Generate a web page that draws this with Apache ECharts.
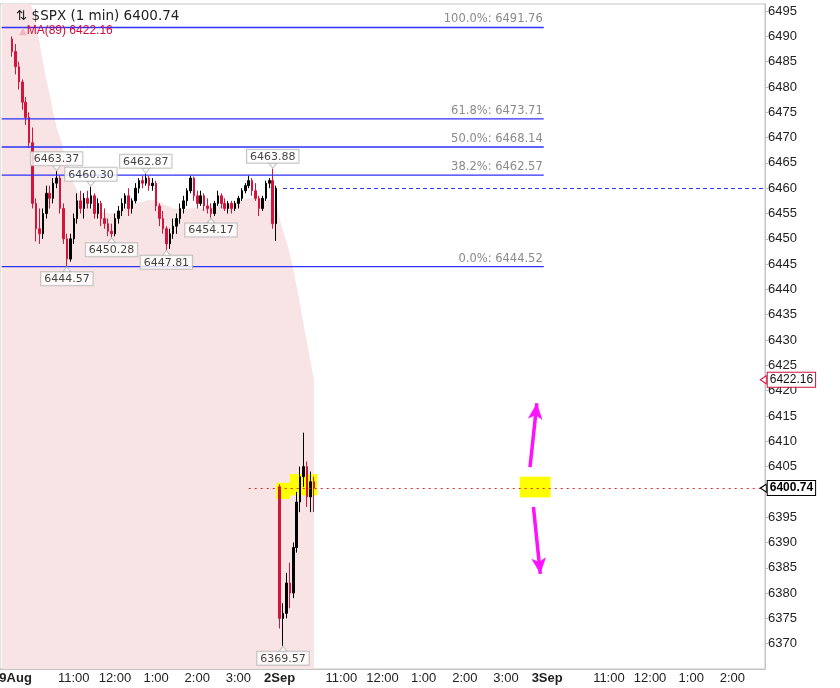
<!DOCTYPE html>
<html><head><meta charset="utf-8">
<script src="https://cdn.jsdelivr.net/npm/echarts@6/dist/echarts.min.js"></script>
<style>html,body{margin:0;padding:0;background:#fff}#c{width:840px;height:688px}</style>
</head><body><div id="c"></div><script>
// ---- axis structure ----
const sessionDays = ['08-29', '09-02', '09-03'];
const sessionSlots = { '08-29': 78, '09-02': 78, '09-03': 64 };
const padBefore = ['09:15', '09:20', '09:25'];
const dayLabels = { '08-29': '29Aug', '09-02': '2Sep', '09-03': '3Sep' };
const hourLabels = { '11:00': '11:00', '12:00': '12:00', '13:00': '1:00', '14:00': '2:00', '15:00': '3:00' };
const yTicks = { min: 6365, max: 6496.4, step: 5 };

// ---- price data, 5-minute bars [open, close, low, high] ----
const aug29Bars = [
  [6489.5,6487,6486,6490],[6487,6484,6482.5,6488.5],[6484,6481,6479.5,6485],[6481,6477,6475.5,6481.5],
  [6477,6474,6472.5,6478],[6474,6469,6468,6475],[6469,6457,6456,6472],[6457,6452,6449.5,6458],
  [6452,6451,6449,6456],[6451,6455,6450,6456],[6455,6459,6454,6460.5],[6459,6458,6456,6460.5],
  [6458,6461,6457,6462],[6461,6462,6460,6463.37],[6462,6456,6455,6462.5],[6456,6450,6449,6457],
  [6450,6446,6444.57,6451],[6446,6450,6445.5,6451],[6450,6454,6449,6455],[6454,6457.5,6453,6459],
  [6457.5,6456,6455,6459.5],[6456,6458,6454,6459],[6458,6457,6456,6459.5],[6457,6458.5,6456,6460.3],
  [6458.5,6455,6454,6459],[6455,6457,6454,6458],[6457,6454,6452.5,6457.5],[6454,6453,6452,6456],
  [6453,6451.5,6450.5,6454],[6451.5,6451,6450.28,6453],[6451,6454,6450.5,6455],[6454,6455.5,6453,6456.5],
  [6455.5,6457,6454.5,6458],[6457,6458.5,6456,6459],[6458.5,6456,6454.5,6460],[6456,6457.5,6455,6458],
  [6457.5,6460,6457,6461],[6460,6461.5,6459,6462],[6461.5,6461,6460,6462.5],[6461,6462,6460.5,6462.87],
  [6462,6460.5,6459.5,6462.5],[6460.5,6461,6459.5,6462],[6461,6456.5,6455.5,6461.5],[6456.5,6454,6452.5,6457],
  [6454,6452,6451,6455.5],[6452,6449,6447.81,6452.5],[6449,6451,6448,6452],[6451,6452.5,6450,6454],
  [6452.5,6454,6451,6455],[6454,6456,6453,6457],[6456,6457.5,6455,6458.5],[6457.5,6459.5,6456.5,6460],
  [6459.5,6462,6459,6462.5],[6462,6458.5,6457.5,6462.3],[6458.5,6457,6456,6459.5],[6457,6458.5,6456.5,6459.5],
  [6458.5,6456.5,6455.5,6459],[6456.5,6456,6455,6458],[6456,6455,6454.17,6457],[6455,6457,6454.5,6457.5],
  [6457,6458.5,6456.5,6459.5],[6458.5,6457,6456,6459],[6457,6456,6455.5,6458],[6456,6457,6455,6457.5],
  [6457,6456,6455,6457.5],[6456,6457,6455.5,6457.5],[6457,6458,6456,6458.5],[6458,6459.5,6457.5,6460],
  [6459.5,6460.5,6459,6461],[6460.5,6461.5,6460,6462.5],[6461.5,6459.5,6458.5,6462],[6459.5,6458,6457.5,6461],
  [6458,6456,6454.5,6458.5],[6456,6458,6455.5,6458.5],[6458,6461,6457.5,6461.5],[6461,6461.5,6460,6462],
  [6461.5,6453,6452,6463.88],[6453,6460,6449.6,6460.5]
];
const sep2Bars = [
  [6401,6375,6373,6401.5],[6375,6376,6369.57,6378],[6376,6382,6375,6384],[6382,6380,6377,6386],
  [6380,6389,6379,6390],[6389,6398,6388,6400],[6398,6403,6396,6405],[6403,6405,6401,6411.7],
  [6405,6399,6397,6406],[6399,6402,6396,6404],[6402,6400.74,6396,6403]
];

// ---- MA(89) ----
const maPad = [6506, 6504, 6502];
const maAug29 = [
  6500.5,6499.8,6499,6498.2,6497.5,6496.8,6495.5,6492.5,6489,6485,6481.5,6478.5,6475,6472,6470,6467.5,
  6465.5,6463,6461,6459.5,6458.5,6457.5,6456.8,6456.2,6455.8,6455.5,6455.3,6455.2,6455,6455,6455,6455.3,
  6455.7,6456.2,6456.6,6457,6457.2,6457.2,6457.3,6457.5,6457.6,6457.6,6457.5,6457.3,6457,6456.6,6456.3,6456,
  6456,6455.9,6455.9,6456,6456,6456.1,6456.1,6456,6456,6456,6456.1,6456.3,6456.5,6456.7,6456.9,6457,
  6457.1,6457.2,6457.4,6457.6,6457.8,6458,6458,6458,6457.9,6457.8,6457.7,6457.6,6457.6,6457.5
];
const maSep2 = [6454,6451.5,6449.5,6447,6444,6440.5,6437,6433,6429.5,6425.8,6422.16];

// ---- Fibonacci levels ----
const fibPct = ['100.0%', '61.8%', '50.0%', '38.2%', '0.0%'];
const fibVals = [6491.76, 6473.71, 6468.14, 6462.57, 6444.52];

// ---- annotated extremes (session, bar index, value) ----
const highMarks = [['08-29',13,6463.37],['08-29',23,6460.30],['08-29',39,6462.87],['08-29',76,6463.88]];
const lowMarks = [['08-29',16,6444.57],['08-29',29,6450.28],['08-29',45,6447.81],['08-29',58,6454.17],['09-02',1,6369.57]];

const lastPrice = 6400.74, lastMA = 6422.16, prevClose = 6460;

// ---- build categories ----
const cats = [];
padBefore.forEach(t => cats.push('08-29 ' + t));
const sessionStart = {};
sessionDays.forEach(d => {
  sessionStart[d] = cats.length;
  for (let k = 0; k < sessionSlots[d]; k++) {
    const m = 570 + 5 * k;
    cats.push(d + ' ' + String(Math.floor(m / 60)).padStart(2, '0') + ':' + String(m % 60).padStart(2, '0'));
  }
});
const cat = (d, i) => cats[sessionStart[d] + i];
const last = cats.length - 1;

const candleData = aug29Bars.map((b, i) => [cat('08-29', i)].concat(b))
  .concat(sep2Bars.map((b, j) => [cat('09-02', j)].concat(b)));
const maData = maPad.map((v, i) => [cats[i], v])
  .concat(maAug29.map((v, i) => [cat('08-29', i), v]))
  .concat(maSep2.map((v, j) => [cat('09-02', j), v]));

function tickLabel(v) {
  const p = v.split(' ');
  if (p[1] === '09:30') return '{b|' + dayLabels[p[0]] + '}';
  return hourLabels[p[1]] || '';
}

const blue = '#3030f8';
const boxLabel = {
  show: true, color: '#111', fontFamily: 'DejaVu Sans', fontSize: 11, lineHeight: 12,
  backgroundColor: '#fff', borderColor: '#b4b4b4', borderWidth: 1, padding: [1, 3, 0, 3],
  formatter: p => p.value[1].toFixed(2)
};

// Fibonacci retracement lines as plain line series
const fibSeries = fibVals.map((v, k) => ({
  name: 'fib' + fibPct[k], type: 'line', z: 4, silent: true,
  color: blue, symbol: 'none', showSymbol: false,
  lineStyle: { color: blue, width: 1.3, type: 'solid' },
  data: [[cats[0], v], [cats[158], v]],
  endLabel: { show: true, formatter: fibPct[k] + ': ' + v.toFixed(2), color: '#8a8a8a',
    fontFamily: 'DejaVu Sans', fontSize: 11.5, align: 'right', verticalAlign: 'bottom',
    distance: 0, offset: [-1, -2] }
}));

const chart = echarts.init(document.getElementById('c'));
chart.setOption({
  animation: false,
  title: [
    { text: '⇅ $SPX (1 min) 6400.74', left: 11, top: 4,
      textStyle: { fontFamily: 'DejaVu Sans', fontSize: 13.5, fontWeight: 'normal', color: '#222' } },
    { text: '{t|▲}{m|MA(89) 6422.16}', left: 14, top: 20,
      textStyle: { fontWeight: 'normal', rich: {
        t: { color: '#f2b6bf', fontSize: 10, fontFamily: 'DejaVu Sans', fontWeight: 'normal' },
        m: { color: '#d0103a', fontSize: 12, fontFamily: 'Liberation Sans', fontWeight: 'normal' } } } }
  ],
  grid: { left: 0, right: 75, top: 4, bottom: 19, show: true, borderColor: '#c4c4c4', borderWidth: 1,
    containLabel: false, outerBoundsMode: 'none' },
  xAxis: {
    type: 'category', data: cats, boundaryGap: true,
    axisLine: { show: true, lineStyle: { color: '#c4c4c4' } },
    axisTick: { show: false },
    splitLine: { show: false },
    axisLabel: {
      interval: (idx, v) => tickLabel(v) !== '',
      formatter: v => tickLabel(v),
      color: '#222', fontFamily: 'Liberation Sans', fontSize: 13, margin: 3,
      rich: { b: { fontWeight: 'bold', fontSize: 13, fontFamily: 'Liberation Sans', color: '#222' } }
    }
  },
  yAxis: {
    type: 'value', position: 'right', min: yTicks.min, max: yTicks.max, interval: yTicks.step, scale: true,
    axisLine: { show: true, lineStyle: { color: '#bdbdbd', type: 'dotted' } },
    axisTick: { show: true, length: 3, lineStyle: { color: '#bdbdbd' } },
    splitLine: { show: false },
    axisLabel: { color: '#222', fontFamily: 'Liberation Sans', fontSize: 13, margin: 3,
      showMinLabel: false, showMaxLabel: false, formatter: v => String(v) }
  },
  series: [
    { name: 'MA(89)', type: 'line', z: 1, data: maData, showSymbol: false, symbol: 'none',
      lineStyle: { width: 0 }, areaStyle: { color: '#f8e4e4', opacity: 1, origin: 'start' },
      markPoint: { silent: true, symbol: 'triangle', symbolSize: [8, 6], symbolRotate: 90,
        itemStyle: { color: '#fff', borderColor: '#d0103a', borderWidth: 1 },
        label: { show: true, position: 'right', distance: 1, formatter: lastMA.toFixed(2),
          color: '#111', fontFamily: 'Liberation Sans', fontSize: 12, lineHeight: 13,
          backgroundColor: '#fff', borderColor: '#d0103a', borderWidth: 1, padding: [1, 2, 0, 2] },
        data: [{ coord: [cats[last], lastMA] }] }
    },
    { name: 'highlight', type: 'line', z: 2, data: [], symbol: 'none',
      markArea: { silent: true, z: 2, itemStyle: { color: '#ffff00', opacity: 1 },
        data: [
          [{ coord: [cats[80], 6401.8] }, { coord: [cats[84], 6398.6] }],
          [{ coord: [cats[84], 6403.5] }, { coord: [cats[92], 6399.3] }],
          [{ coord: [cats[151], 6403.0] }, { coord: [cats[160], 6398.9] }]
        ] } },
    { name: '$SPX', type: 'candlestick', z: 3, data: candleData, barWidth: 2,
      encode: { x: 0, y: [1, 2, 3, 4] },
      itemStyle: { color: '#000', color0: '#d4143a', borderColor: '#000', borderColor0: '#d4143a', borderWidth: 1 },
      markPoint: { silent: true, symbol: 'triangle', symbolSize: [8, 6], symbolRotate: 90,
        itemStyle: { color: '#fff', borderColor: '#000', borderWidth: 1 },
        label: { show: true, position: 'right', distance: 1, formatter: lastPrice.toFixed(2),
          color: '#000', fontWeight: 'bold', fontFamily: 'Liberation Sans', fontSize: 12, lineHeight: 13,
          backgroundColor: '#fff', borderColor: '#000', borderWidth: 1, padding: [1, 2, 0, 2] },
        data: [{ coord: [cats[last], lastPrice] }] },
      markLine: { silent: true, symbol: ['none', 'none'], animation: false, z: 4,
        data: [
          [{ coord: [cats[82], prevClose], lineStyle: { color: blue, type: [4, 3], width: 1 }, label: { show: false } },
           { coord: [cats[last], prevClose] }],
          [{ coord: [cats[72], lastPrice], lineStyle: { color: '#e02828', type: [2, 4], width: 1 }, label: { show: false } },
           { coord: [cats[last], lastPrice] }]
        ] }
    }
  ].concat(fibSeries).concat([
    { name: 'arrows', type: 'line', z: 5, data: [], symbol: 'none',
      markLine: { silent: true, animation: false, symbol: ['none', 'arrow'], symbolSize: [11, 16],
        lineStyle: { color: '#ff10ff', width: 3.5, type: 'solid' }, label: { show: false },
        data: [
          [{ coord: [153.8, 6404.9] }, { coord: [156.0, 6417.5] }],
          [{ coord: [155.0, 6397.0] }, { coord: [156.7, 6383.8] }]
        ] }
    },
    { name: 'highs', type: 'scatter', z: 6, symbol: 'triangle', symbolSize: [8, 5], symbolRotate: 180,
      symbolOffset: [0, -3], itemStyle: { color: '#fff', borderColor: '#b4b4b4', borderWidth: 1 },
      label: Object.assign({}, boxLabel, { position: 'top', distance: 0 }),
      data: highMarks.map(h => [cat(h[0], h[1]), h[2]]) },
    { name: 'lows', type: 'scatter', z: 6, symbol: 'triangle', symbolSize: [8, 5],
      symbolOffset: [0, 3], itemStyle: { color: '#fff', borderColor: '#b4b4b4', borderWidth: 1 },
      label: Object.assign({}, boxLabel, { position: 'bottom', distance: 0 }),
      data: lowMarks.map(h => [cat(h[0], h[1]), h[2]]) }
  ])
});
</script></body></html>
